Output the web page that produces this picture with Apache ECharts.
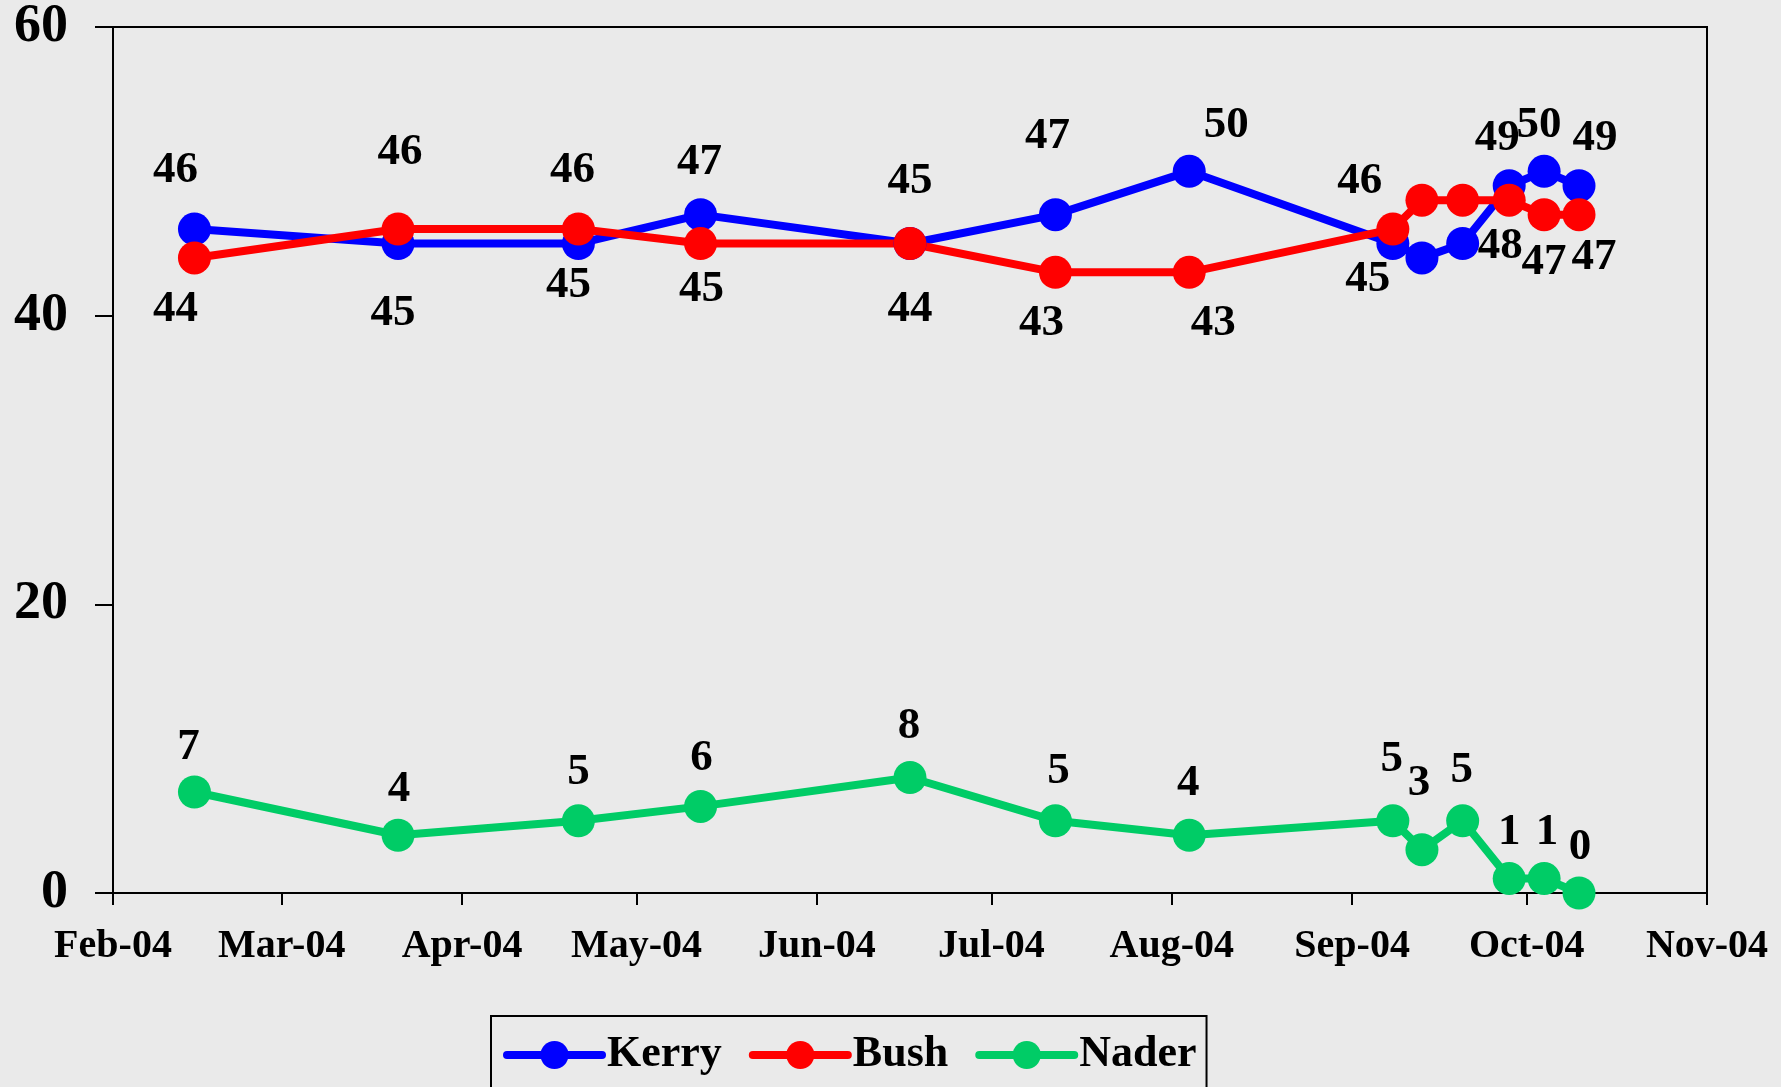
<!DOCTYPE html>
<html>
<head>
<meta charset="utf-8">
<title>Kerry / Bush / Nader</title>
<script src="https://cdn.jsdelivr.net/npm/echarts@6/dist/echarts.min.js"></script>
<style>
  html, body { margin: 0; padding: 0; background: #eaeaea; }
  #chart { width: 1781px; height: 1087px; }
</style>
</head>
<body>
<div id="chart"></div>
<script>
// poll dates (x)
var dates = ['2004-02-15', '2004-03-21', '2004-04-21', '2004-05-12', '2004-06-17', '2004-07-12',
    '2004-08-04', '2004-09-08', '2004-09-13', '2004-09-20', '2004-09-28', '2004-10-04', '2004-10-10']
var kerry = [46, 45, 45, 47, 45, 47, 50, 45, 44, 45, 49, 50, 49]
var bush = [44, 46, 46, 45, 45, 43, 43, 46, 48, 48, 48, 47, 47]
var nader = [7, 4, 5, 6, 8, 5, 4, 5, 3, 5, 1, 1, 0]
// label text as printed on the chart ('' = no label there)
var kerryText = ['46', '45', '45', '47', '45', '47', '50', '45', '', '', '49', '50', '49']
var bushText = ['44', '46', '46', '45', '44', '43', '43', '46', '', '', '48', '47', '47']
var naderText = ['7', '4', '5', '6', '8', '5', '4', '5', '3', '5', '1', '1', '0']
var monthLabels = ['Feb-04', 'Mar-04', 'Apr-04', 'May-04', 'Jun-04', 'Jul-04', 'Aug-04', 'Sep-04', 'Oct-04', 'Nov-04']
var yTicks = {min: 0, max: 60, interval: 20}

// where each label sits relative to its point (px)
var kerryOff = [[-19, -59], [-5, 70], [-10, 42], [-1, -52], [0, -62], [-8, -78], [37, -46], [-25, 36], null, null, [-12, -47], [-5, -46], [16, -47]]
var bushOff = [[-19, 51], [2, -77], [-6, -59], [1, 46], [0, 66], [-14, 51], [24, 51], [-33, -48], null, null, [-9, 46], [0, 48], [15, 43]]
var naderOff = [[-6, -45], [1, -46], [0, -48], [1, -48], [-1, -51], [3, -49], [-1, -52], [-1, -61], [-3, -66], [-1, -50], [0, -46], [3, -46], [1, -46]]

var font = "'Liberation Serif', 'Times New Roman', serif"

function points (values, texts, offs) {
    var out = []
    for (var i = 0; i < values.length; i++) {
        var item = {value: [dates[i], values[i]]}
        if (texts[i] !== '') {
            item.label = {
                show: true,
                position: 'inside',
                formatter: texts[i],
                offset: offs[i]
            }
        } else {
            item.label = {show: false}
        }
        out.push(item)
    }
    return out
}

function line (name, color, values, texts, offs) {
    return {
        name: name,
        type: 'line',
        symbol: 'circle',
        symbolSize: 33,
        showAllSymbol: true,
        lineStyle: {color: color, width: 8},
        itemStyle: {color: color},
        label: {
            color: '#000',
            fontFamily: font,
            fontWeight: 'bold',
            fontSize: 45,
            align: 'center',
            verticalAlign: 'middle'
        },
        emphasis: {disabled: true},
        data: points(values, texts, offs)
    }
}

var chart = echarts.init(document.getElementById('chart'))
chart.setOption({
    backgroundColor: '#eaeaea',
    animation: false,
    grid: {
        left: 113, top: 27, right: 74, bottom: 194,
        show: true, borderColor: '#000', borderWidth: 2, backgroundColor: 'transparent'
    },
    legend: {
        left: 491,
        top: 1016,
        padding: [17, 10, 40, 12],
        itemGap: 27,
        itemWidth: 95,
        itemHeight: 35,
        borderColor: '#000',
        borderWidth: 2,
        backgroundColor: '#eaeaea',
        lineStyle: {width: 8, cap: 'round'},
        textStyle: {color: '#000', fontFamily: font, fontWeight: 'bold', fontSize: 44},
        data: ['Kerry', 'Bush', 'Nader']
    },
    xAxis: {
        type: 'time',
        min: '2004-02-01',
        max: '2004-11-01',
        splitNumber: 9,
        minInterval: 28 * 86400000,
        maxInterval: 31 * 86400000,
        splitLine: {show: false},
        axisLine: {lineStyle: {color: '#000', width: 2}},
        axisTick: {show: true, inside: false, length: 12, lineStyle: {color: '#000', width: 2}},
        axisLabel: {
            color: '#000',
            fontFamily: font,
            fontWeight: 'bold',
            fontSize: 40,
            margin: 34,
            showMinLabel: true,
            showMaxLabel: true,
            formatter: function (val) {
                var d = new Date(val)
                if (d.getDate() !== 1) return ''
                return monthLabels[d.getMonth() - 1] || ''
            }
        }
    },
    yAxis: {
        type: 'value',
        min: yTicks.min,
        max: yTicks.max,
        interval: yTicks.interval,
        splitLine: {show: false},
        axisLine: {show: true, lineStyle: {color: '#000', width: 2}},
        axisTick: {show: true, inside: false, length: 18, lineStyle: {color: '#000', width: 2}},
        axisLabel: {color: '#000', fontFamily: font, fontWeight: 'bold', fontSize: 54, margin: 45}
    },
    series: [
        line('Kerry', '#0000ff', kerry, kerryText, kerryOff),
        line('Bush', '#ff0000', bush, bushText, bushOff),
        line('Nader', '#00cc66', nader, naderText, naderOff)
    ]
})
</script>
</body>
</html>
